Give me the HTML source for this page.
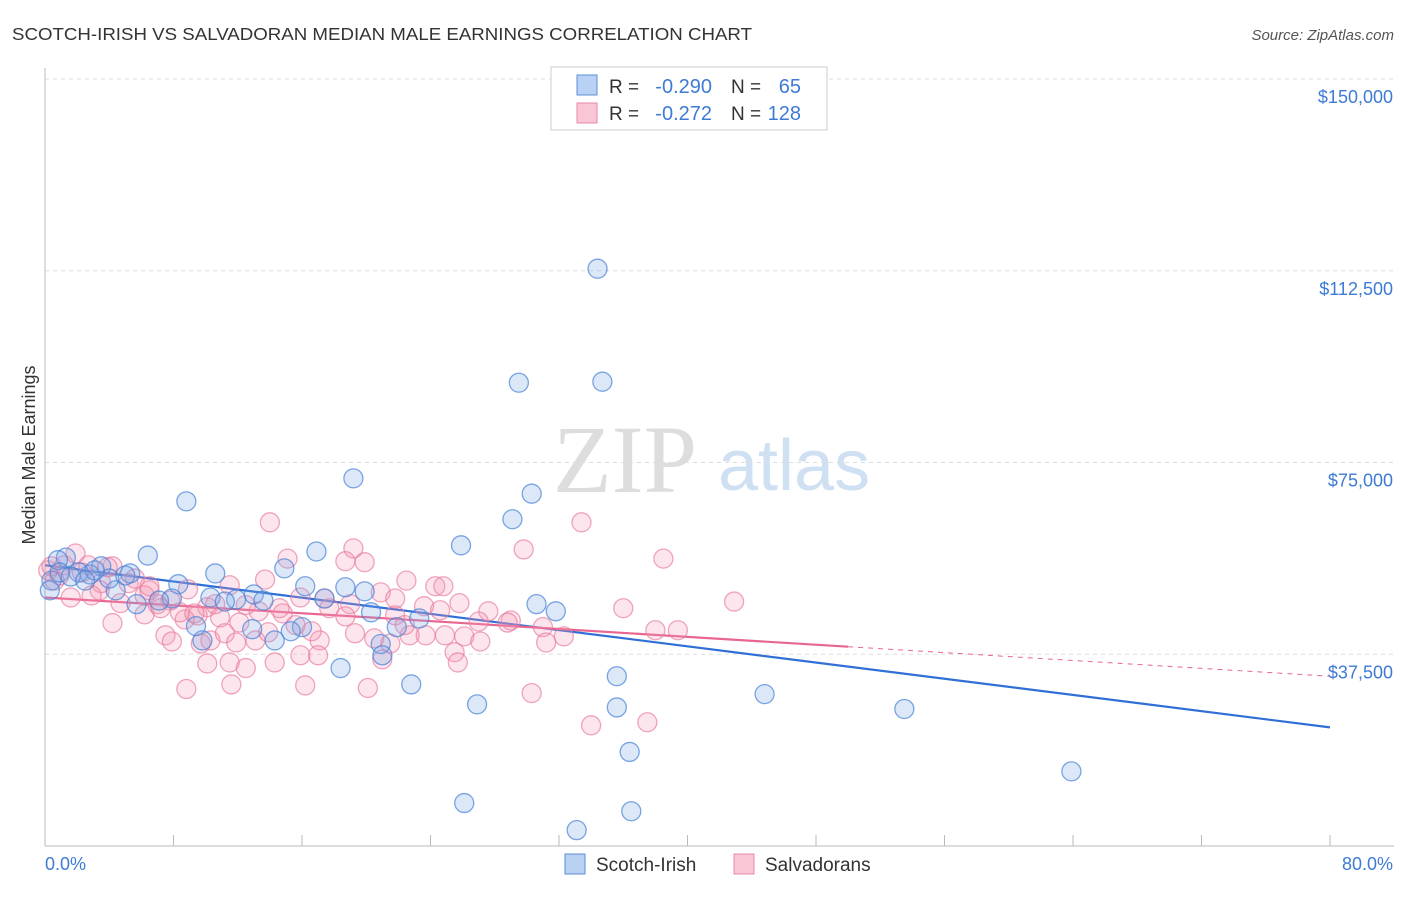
<!DOCTYPE html>
<html><head><meta charset="utf-8"><style>
body{margin:0;background:#fff;font-family:"Liberation Sans",sans-serif;}
svg text{font-family:"Liberation Sans",sans-serif;}
</style></head><body>
<svg id="chart" width="1406" height="892">
<text x="12" y="40" font-size="17.5" fill="#333" textLength="740" lengthAdjust="spacingAndGlyphs">SCOTCH-IRISH VS SALVADORAN MEDIAN MALE EARNINGS CORRELATION CHART</text>
<text x="1394" y="40" font-size="15" fill="#555" font-style="italic" text-anchor="end">Source: ZipAtlas.com</text>
<text x="35" y="455" font-size="18" fill="#333" transform="rotate(-90 35 455)" text-anchor="middle">Median Male Earnings</text>
<g>
<text x="553" y="492" font-size="96" fill="#ddd" font-family="Liberation Serif" style="font-family:'Liberation Serif',serif">ZIP</text>
<text x="718" y="490" font-size="72" fill="#cfe0f3">atlas</text>
</g>
<g id="grid"></g><g id="axes"></g><g id="trend"></g><g id="pts"></g>
<g>
<rect x="551" y="67" width="276" height="63" fill="#fff" stroke="#ccc"/>
<rect x="577" y="75" width="20" height="20" fill="#b9d1f3" stroke="#5b8fd8"/>
<rect x="577" y="103" width="20" height="20" fill="#f9c6d5" stroke="#e88aa8"/>
<text x="609" y="93" font-size="19" fill="#333">R =</text>
<text x="712" y="93" font-size="20" fill="#3d7bd6" text-anchor="end">-0.290</text>
<text x="731" y="93" font-size="19" fill="#333">N =</text>
<text x="801" y="93" font-size="20" fill="#3d7bd6" text-anchor="end">65</text>
<text x="609" y="120" font-size="19" fill="#333">R =</text>
<text x="712" y="120" font-size="20" fill="#3d7bd6" text-anchor="end">-0.272</text>
<text x="731" y="120" font-size="19" fill="#333">N =</text>
<text x="801" y="120" font-size="20" fill="#3d7bd6" text-anchor="end">128</text>
</g>
<g>
<rect x="565" y="854" width="20" height="20" fill="#b9d1f3" stroke="#5b8fd8"/>
<text x="596" y="871" font-size="19" fill="#333">Scotch-Irish</text>
<rect x="734" y="854" width="20" height="20" fill="#f9c6d5" stroke="#e88aa8"/>
<text x="765" y="871" font-size="19" fill="#333">Salvadorans</text>
</g>
</svg>
<script>
const yTicks=[37500,75000,112500,150000];
const yTickLabels=["$37,500","$75,000","$112,500","$150,000"];
const xTickCount=10;
const xLabels=["0.0%","80.0%"];
const blueX=[34.4,29.5,34.7,19.2,8.8,30.3,29.1,25.9,6.4,16.9,1.3,0.8,3.5,10.6,14.9,5.3,8.3,16.2,18.7,19.9,13.0,10.3,11.9,13.6,17.4,7.9,11.2,4.4,7.1,5.7,2.8,2.1,30.6,31.8,20.3,23.3,21.9,16.0,15.3,9.8,12.9,14.3,9.4,20.9,21.0,18.4,35.6,22.8,44.8,26.9,35.6,53.5,36.4,63.9,26.1,36.5,33.1,0.4,0.3,0.9,1.6,4.0,5.0,3.1,2.5];
const blueY=[112.9,90.6,90.8,71.9,67.4,68.9,63.9,58.8,56.8,57.6,56.4,55.9,54.7,53.3,54.3,53.3,51.2,50.8,50.6,49.8,49.2,48.6,48.2,48.0,48.4,48.4,47.8,50.0,48.0,47.3,53.1,53.5,47.3,45.9,45.7,44.5,42.8,42.8,42.0,40.2,42.4,40.2,43.0,39.5,37.3,34.8,33.2,31.6,29.7,27.7,27.1,26.8,18.4,14.6,8.4,6.8,3.1,51.9,50.0,53.5,52.7,52.3,52.9,53.9,51.9];
const pinkX=[14.0,33.4,19.2,29.8,38.5,42.9,1.9,4.2,15.1,18.7,19.9,22.5,24.3,24.8,13.7,11.5,5.2,3.5,2.3,0.9,6.2,7.8,8.9,10.1,7.0,4.7,3.4,2.9,1.6,17.4,19.0,20.9,21.8,23.6,24.6,25.8,27.6,29.0,27.0,28.8,31.0,32.3,36.0,38.0,39.4,13.3,14.8,12.1,10.9,9.5,8.7,6.2,4.2,7.5,7.9,9.7,10.3,11.2,11.9,13.1,13.9,15.6,17.1,16.6,15.9,17.0,19.3,20.5,21.5,22.7,23.7,24.9,26.1,27.1,25.5,21.0,20.1,16.2,8.8,10.1,11.5,12.5,14.3,11.6,31.2,25.7,30.3,34.0,37.5,0.2,0.4,0.6,1.2,2.7,3.9,5.6,6.5,7.2,8.4,9.3,10.6,12.5,14.6,15.9,17.7,18.7,21.8,22.4,6.5];
const pinkY=[63.3,63.3,58.2,58.0,56.2,47.8,57.2,54.7,56.2,55.7,55.5,51.9,50.8,50.8,52.1,51.0,51.4,51.4,53.5,52.9,49.0,48.0,50.2,46.7,47.3,47.5,50.0,49.0,48.6,48.4,47.3,49.6,48.4,46.9,46.1,47.5,45.9,44.1,43.9,43.7,42.8,41.0,46.5,42.2,42.2,45.9,45.5,43.7,44.7,45.1,44.3,45.3,43.6,41.2,40.0,39.6,40.2,41.6,39.8,40.2,41.8,43.2,40.2,42.0,37.3,37.3,41.6,40.6,39.6,41.2,41.2,41.2,41.0,40.0,37.9,36.5,30.9,31.4,30.7,35.7,35.9,34.8,35.9,31.6,39.8,35.9,29.9,23.6,24.2,53.9,54.7,51.9,54.9,54.9,54.5,52.3,50.0,46.5,45.7,45.5,47.3,47.1,46.5,48.6,46.5,44.9,45.1,43.2,50.8];
const blueTrend=[54.9,23.2];
const pinkTrend=[48.6,33.2];
const pinkSolidEnd=50.0;

const NS="http://www.w3.org/2000/svg";
const X0=45,X1=1330,YB=846,YT=79;
const sx=v=>X0+(v/80)*(X1-X0);
const sy=v=>YB-(v/150)*(YB-YT);
function mk(tag,attrs,parent){const e=document.createElementNS(NS,tag);for(const k in attrs)e.setAttribute(k,attrs[k]);parent.appendChild(e);return e;}
const grid=document.getElementById('grid'),axes=document.getElementById('axes'),pts=document.getElementById('pts'),trend=document.getElementById('trend');
yTicks.forEach((t,i)=>{
 const l=mk('line',{x1:X0,x2:1394,y1:sy(t/1000),y2:sy(t/1000),stroke:'#ddd','stroke-dasharray':'4,4'},grid);
 
 
 const tx=mk('text',{x:1393,y:sy(t/1000)+24,'font-size':18,fill:'#3d7bd6','text-anchor':'end'},grid);
 tx.textContent=yTickLabels[i];
 
 
});
const ya=mk('line',{x1:X0,x2:X0,y1:68,y2:YB,stroke:'#bbb'},axes);


const xa=mk('line',{x1:X0,x2:1394,y1:YB,y2:YB,stroke:'#bbb'},axes);


for(let i=0;i<=xTickCount;i++){
 const x=sx(i*80/xTickCount);
 const t=mk('line',{x1:x,x2:x,y1:835,y2:YB,stroke:'#bbb'},axes);
 
 
}
const xl0=mk('text',{x:X0,y:870,'font-size':18,fill:'#3d7bd6'},axes);xl0.textContent=xLabels[0];


const xl1=mk('text',{x:1393,y:870,'font-size':18,fill:'#3d7bd6','text-anchor':'end'},axes);xl1.textContent=xLabels[1];


function addPts(xs,ys,fill,stroke,name){
 xs.forEach((x,i)=>{
  const c=mk('circle',{cx:sx(x),cy:sy(ys[i]),r:9.5,fill:fill,stroke:stroke,'stroke-width':1.3},pts);
  
  
 });
}
addPts(pinkX,pinkY,'rgba(244,150,178,0.25)','rgba(232,120,155,0.65)','salvadoran-point');
addPts(blueX,blueY,'rgba(130,170,230,0.28)','rgba(70,130,215,0.7)','scotch-irish-point');
const bt=mk('line',{x1:sx(0),y1:sy(blueTrend[0]),x2:sx(80),y2:sy(blueTrend[1]),stroke:'#2f6fd6','stroke-width':2.2},trend);


const pe=pinkTrend[0]+(pinkTrend[1]-pinkTrend[0])*pinkSolidEnd/80;
const pt=mk('line',{x1:sx(0),y1:sy(pinkTrend[0]),x2:sx(pinkSolidEnd),y2:sy(pe),stroke:'#e8668f','stroke-width':2.2},trend);


const pd=mk('line',{x1:sx(pinkSolidEnd),y1:sy(pe),x2:sx(80),y2:sy(pinkTrend[1]),stroke:'#e8668f','stroke-width':1,'stroke-dasharray':'5,5'},trend);


</script>
</body></html>
